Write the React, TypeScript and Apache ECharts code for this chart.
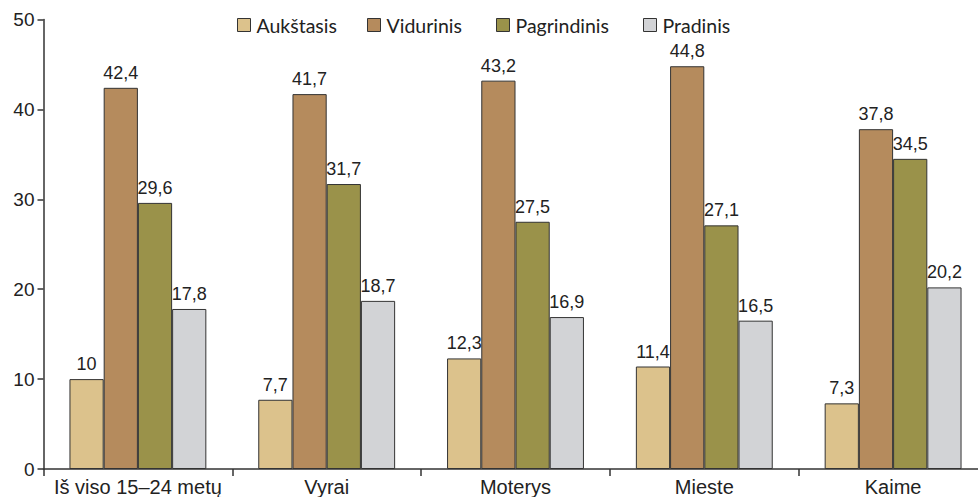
import React, { useEffect, useRef } from "react";
import * as echarts from "echarts";

const categories = ["Iš viso 15–24 metų", "Vyrai", "Moterys", "Mieste", "Kaime"];
const seriesNames = ["Aukštasis", "Vidurinis", "Pagrindinis", "Pradinis"];
const aukstasis = [10, 7.7, 12.3, 11.4, 7.3];
const vidurinis = [42.4, 41.7, 43.2, 44.8, 37.8];
const pagrindinis = [29.6, 31.7, 27.5, 27.1, 34.5];
const pradinis = [17.8, 18.7, 16.9, 16.5, 20.2];
const colors = ["#dcc28c", "#b58b5d", "#9a924a", "#d2d3d6"];
const legendLefts = [237, 367, 496, 643];

export default function App() {
  const ref = useRef<HTMLDivElement>(null);
  useEffect(() => {
    if (!ref.current) return;
    const chart = echarts.init(ref.current, null, { renderer: "svg" });
    const data = [aukstasis, vidurinis, pagrindinis, pradinis];
    chart.setOption({
      animation: false,
      textStyle: { fontFamily: "Liberation Sans, Arial, sans-serif" },
      legend: seriesNames.map((n, i) => ({
        left: legendLefts[i],
        top: 15,
        padding: 0,
        itemWidth: 13,
        itemHeight: 13,
        textStyle: { fontFamily: "Lato", fontSize: 19.5, color: "#222", lineHeight: 14, padding: [0, 0, 0, 1] },
        data: [
          {
            name: n,
            icon: "rect",
            itemStyle: { color: colors[i], borderColor: "#333", borderWidth: 1 },
          },
        ],
      })),
      grid: {
        left: 43.5,
        width: 944,
        top: 19.5,
        bottom: 28,
        containLabel: false,
        outerBoundsMode: "none",
      },
      xAxis: {
        type: "category",
        data: categories,
        axisLine: { lineStyle: { color: "#333", width: 1.5 } },
        axisTick: { show: true, length: 7, alignWithLabel: false, lineStyle: { color: "#333", width: 1.5 } },
        axisLabel: { color: "#222", fontSize: 20, margin: 8, interval: 0 },
      },
      yAxis: {
        type: "value",
        min: 0,
        max: 50,
        interval: 10,
        splitLine: { show: false },
        axisLine: { show: true, lineStyle: { color: "#333", width: 1.5 } },
        axisTick: { show: true, length: 6, lineStyle: { color: "#333", width: 1.5 } },
        axisLabel: { color: "#222", fontSize: 19, margin: 9 },
      },
      series: data.map((d, i) => ({
        name: seriesNames[i],
        type: "bar",
        data: d,
        barGap: "0%",
        barCategoryGap: "27.5%",
        itemStyle: { color: colors[i], borderColor: "#333", borderWidth: 1 },
        label: {
          show: true,
          position: "top",
          distance: 6,
          color: "#222",
          fontSize: 18,
          formatter: (p: any) => String(p.value).replace(".", ","),
        },
      })),
    });
    return () => chart.dispose();
  }, []);
  return (
    <div
      ref={ref}
      style={{ position: "fixed", left: 0, top: 0, width: 978, height: 497, background: "#fff" }}
    />
  );
}
